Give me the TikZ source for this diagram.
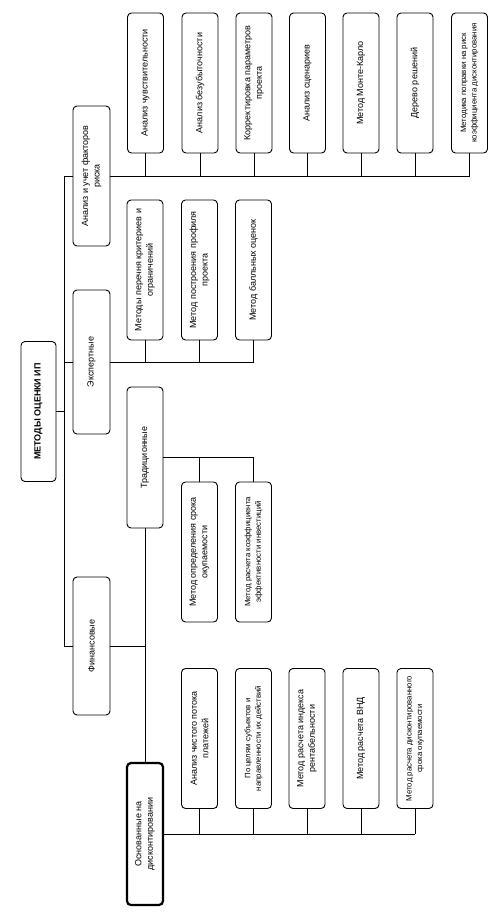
\documentclass[tikz,border=0pt]{standalone}
\usepackage{fontspec}
\setmainfont{Liberation Sans}

\tikzset{
	box/.style={draw, line width=0.9pt, rounded corners=4pt, rotate=90, align=center,
		minimum width=140pt, minimum height=36pt, inner sep=1pt,
		font=\fontsize{9}{11.5}\selectfont},
	smalltext/.style={font=\fontsize{7.8}{10.5}\selectfont},
	link/.style={line width=0.9pt},
}

\begin{document}
\begin{tikzpicture}[x=1pt,y=-1pt]
		\useasboundingbox (0,0) rectangle (501,914);

		\node[box, minimum height=35pt, font=\fontsize{9}{11.5}\selectfont\bfseries] (root) at (38.5,411.5) {МЕТОДЫ ОЦЕНКИ ИП};

		\node[box, minimum height=37pt] (risk) at (91.5,176) {Анализ и учет факторов\\риска};
		\node[box, minimum height=37pt, minimum width=144pt] (expert) at (91.5,362) {Экспертные};
		\node[box, minimum height=37pt, minimum width=138pt] (fin) at (91.5,646) {Финансовые};

		\node[box] (r1) at (145.5,83) {Анализ чувствительности};
		\node[box] (r2) at (200,83) {Анализ безубыточности};
		\node[box] (r3) at (254,83) {Корректировка параметров\\проекта};
		\node[box] (r4) at (307.5,83) {Анализ сценариев};
		\node[box] (r5) at (361,83) {Метод Монте-Карло};
		\node[box] (r6) at (415,83) {Дерево решений};
		\node[box, smalltext] (r7) at (469.5,83) {Методика поправки на риск\\коэффициента дисконтирования};

		\node[box] (e1) at (145,270) {Методы перечня критериев и\\ограничений};
		\node[box] (e2) at (199.5,270) {Метод построения профиля\\проекта};
		\node[box] (e3) at (253.5,270) {Метод балльных оценок};

		\node[box, minimum width=141pt] (trad) at (145,457.5) {Традиционные};
		\node[box] (t1) at (199.5,552) {Метод определения срока\\окупаемости};
		\node[box, smalltext] (t2) at (253.5,552) {Метод расчета коэффициента\\эффективности инвестиций};

		\node[box, line width=2.2pt, minimum width=142pt] (disc) at (145,834) {Основанные на\\дисконтировании};
		\node[box] (d1) at (199.5,738.5) {Анализ чистого потока\\платежей};
		\node[box, smalltext] (d2) at (253.5,738.5) {По целям субъектов и\\направленности их действий};
		\node[box] (d3) at (307,738.5) {Метод расчета индекса\\рентабельности};
		\node[box] (d4) at (361,738.5) {Метод расчета ВНД};
		\node[box, smalltext] (d5) at (415,738.5) {Метод расчета дисконтированного\\срока окупаемости};

		\coordinate (trunktop) at (64,176);
		\coordinate (trunkbot) at (64,646);

		\draw[link] (trunktop) -- (trunkbot);
		\draw[link] (root.south) -- (root.south -| trunktop);
		\draw[link] (trunktop) -- (risk.north);
		\draw[link] (expert.north -| trunktop) -- (expert.north);
		\draw[link] (trunkbot) -- (fin.north);

		\draw[link] (risk.south) -- (risk.south -| r7.west);
		\draw[link] (r1.west) -- (r1.west |- risk.south);
		\draw[link] (r2.west) -- (r2.west |- risk.south);
		\draw[link] (r3.west) -- (r3.west |- risk.south);
		\draw[link] (r4.west) -- (r4.west |- risk.south);
		\draw[link] (r5.west) -- (r5.west |- risk.south);
		\draw[link] (r6.west) -- (r6.west |- risk.south);
		\draw[link] (r7.west) -- (r7.west |- risk.south);

		\draw[link] (expert.south) -- (expert.south -| e3.west);
		\draw[link] (e1.west) -- (e1.west |- expert.south);
		\draw[link] (e2.west) -- (e2.west |- expert.south);
		\draw[link] (e3.west) -- (e3.west |- expert.south);

		\draw[link] (fin.south) -- (fin.south -| trad.west);
		\draw[link] (trad.west) -- (disc.east);

		\draw[link] (trad.south) -- (trad.south -| t2.east);
		\draw[link] (t1.east) -- (t1.east |- trad.south);
		\draw[link] (t2.east) -- (t2.east |- trad.south);

		\draw[link] (disc.south) -- (disc.south -| d5.west);
		\draw[link] (d1.west) -- (d1.west |- disc.south);
		\draw[link] (d2.west) -- (d2.west |- disc.south);
		\draw[link] (d3.west) -- (d3.west |- disc.south);
		\draw[link] (d4.west) -- (d4.west |- disc.south);
		\draw[link] (d5.west) -- (d5.west |- disc.south);
	\end{tikzpicture}
\end{document}
